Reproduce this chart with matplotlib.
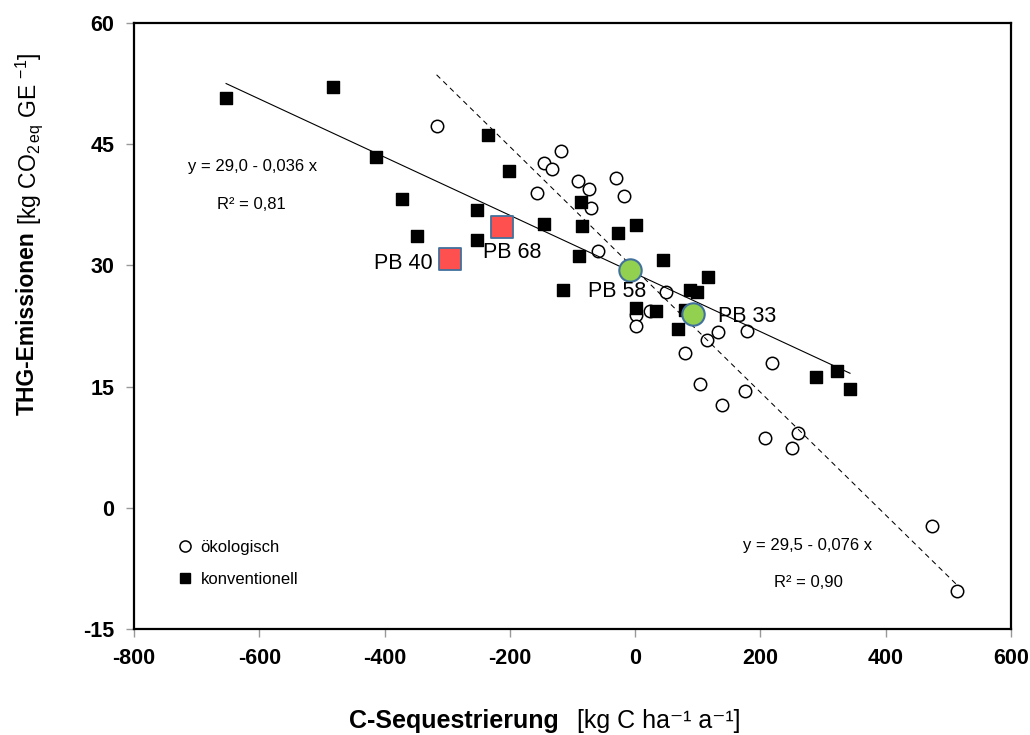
import matplotlib
matplotlib.use('Agg')
from matplotlib import pyplot as plt
from matplotlib.lines import Line2D

plt.rcParams['font.family'] = ['Liberation Sans', 'DejaVu Sans']
plt.rcParams['axes.unicode_minus'] = False
plt.rcParams['mathtext.fontset'] = 'custom'
plt.rcParams['mathtext.rm'] = 'Liberation Sans'
plt.rcParams['mathtext.it'] = 'Liberation Sans:italic'
plt.rcParams['mathtext.bf'] = 'Liberation Sans:bold'

# konventionelle Betriebe (C-Sequestrierung, THG-Emissionen)
konv_x = [-653, -482, -414, -372, -349, -253, -253, -235, -202, -145,
          -89, -115, -85, -86, -27, 1, 45, 116, 87, 98,
          2, 34, 80, 68, 289, 323, 343]
konv_y = [50.7, 52.1, 43.4, 38.2, 33.6, 36.9, 33.1, 46.1, 41.7, 35.1,
          31.2, 27.0, 34.9, 37.9, 34.0, 35.0, 30.7, 28.6, 27.0, 26.7,
          24.7, 24.3, 24.5, 22.1, 16.2, 16.9, 14.7]

# oekologische Betriebe
oeko_x = [-317, -145, -132, -118, -156, -91, -74, -30, -17, -70,
          -59, 50, 2, 23, 2, 132, 179, 114, 80, 218,
          104, 176, 138, 208, 260, 251, 474, 514]
oeko_y = [47.2, 42.7, 41.9, 44.2, 38.9, 40.5, 39.5, 40.8, 38.6, 37.1,
          31.8, 26.7, 23.8, 24.3, 22.5, 21.7, 21.9, 20.8, 19.2, 17.9,
          15.3, 14.5, 12.7, 8.7, 9.3, 7.4, -2.2, -10.3]

# hervorgehobene Betriebe
pb_rot_namen = ['PB 40', 'PB 68']
pb_rot_x = [-296, -212]
pb_rot_y = [30.8, 34.7]
pb_gruen_namen = ['PB 58', 'PB 33']
pb_gruen_x = [-8, 92]
pb_gruen_y = [29.4, 24.0]

# Regressionen y = a + b x
konv_reg = [29.0, -0.036]
oeko_reg = [29.5, -0.076]
konv_text = ['y = 29,0 - 0,036 x', 'R² = 0,81']
oeko_text = ['y = 29,5 - 0,076 x', 'R² = 0,90']

x_ticks = [-800, -600, -400, -200, 0, 200, 400, 600]
y_ticks = [-15, 0, 15, 30, 45, 60]

W, H = 1030, 735
fig = plt.figure(figsize=(10.3, 7.35), dpi=100)
ax = fig.add_axes([134 / W, 1 - 629 / H, 877 / W, 606 / H])

# Punkte
ax.scatter(oeko_x, oeko_y, s=80, marker='o', facecolors='white',
           edgecolors='black', linewidths=1.1, zorder=2)

# Regressionsgeraden
xk = [min(konv_x), max(konv_x)]
ax.plot(xk, [konv_reg[0] + konv_reg[1] * x for x in xk], color='black',
        lw=0.8, zorder=3)
xo = [min(oeko_x), max(oeko_x)]
ax.plot(xo, [oeko_reg[0] + oeko_reg[1] * x for x in xo], color='black',
        lw=0.75, dashes=(5, 4), zorder=3)

ax.scatter(konv_x, konv_y, s=78, marker='s', color='black', zorder=4)

ax.scatter(pb_rot_x, pb_rot_y, s=250, marker='s', facecolors='#FF5050',
           edgecolors='#41719C', linewidths=1.3, zorder=5)
ax.scatter(pb_gruen_x, pb_gruen_y, s=260, marker='o', facecolors='#92D050',
           edgecolors='#41719C', linewidths=1.5, zorder=5)

# Beschriftungen der Betriebe
offsets = {'PB 40': (-12, -3.4, 'right'), 'PB 68': (-13.7, -18.4, 'left'),
           'PB 58': (-30, -15.6, 'left'), 'PB 33': (18.4, -2.2, 'left')}
for name, x, y in zip(pb_rot_namen + pb_gruen_namen,
                      pb_rot_x + pb_gruen_x, pb_rot_y + pb_gruen_y):
    dx, dy, ha = offsets[name]
    ax.annotate(name, (x, y), xytext=(dx, dy), textcoords='offset points',
                ha=ha, va='center', fontsize=15.5, zorder=6)

# Gleichungen
ax.text(-611, 42.3, konv_text[0], ha='center', va='center', fontsize=12)
ax.text(-613, 37.5, konv_text[1], ha='center', va='center', fontsize=12)
ax.text(276, -4.7, oeko_text[0], ha='center', va='center', fontsize=12)
ax.text(276, -9.3, oeko_text[1], ha='center', va='center', fontsize=12)

# Legende
handles = [Line2D([], [], ls='none', marker='o', mfc='white', mec='black',
                  mew=1.1, ms=8),
           Line2D([], [], ls='none', marker='s', color='black', ms=7.5)]
ax.legend(handles, ['ökologisch', 'konventionell'], loc='lower left',
          bbox_to_anchor=(0.032, 0.045), frameon=False, fontsize=12,
          handlelength=1.0, handletextpad=0.4, labelspacing=1.0)

# Achsen
ax.set_xlim(-800, 600)
ax.set_ylim(-15, 60)
ax.set_xticks(x_ticks)
ax.set_yticks(y_ticks)
for lab in ax.get_xticklabels() + ax.get_yticklabels():
    lab.set_fontweight('bold')
ax.tick_params(axis='both', labelsize=15.5, length=6, width=1,
               color='#999999', pad=8)
for sp in ax.spines.values():
    sp.set_linewidth(1.6)
    sp.set_color('black')

# Achsentitel: fetter und normaler Teil
fig.canvas.draw()
t1 = fig.text(349 / W, 1 - 728 / H, 'C-Sequestrierung', ha='left',
              va='baseline', fontsize=18, fontweight='bold')
t2 = fig.text(27 / W, 1 - 415 / H, 'THG-Emissionen', rotation=90,
              ha='center', va='bottom', fontsize=16.5, fontweight='bold')
fig.canvas.draw()
bb1 = t1.get_window_extent()
fig.text((bb1.x1 + 18) / W, 1 - 728 / H, '[kg C ha⁻¹ a⁻¹]',
         ha='left', va='baseline', fontsize=18)
bb2 = t2.get_window_extent()
fig.text(29 / W, (bb2.y1 + 6) / H, '[kg CO$_{2\\,\\mathrm{eq}}$ GE $^{-1}$]',
         rotation=90, ha='center', va='bottom', fontsize=16.5)

fig.savefig('out.png', dpi=100)
